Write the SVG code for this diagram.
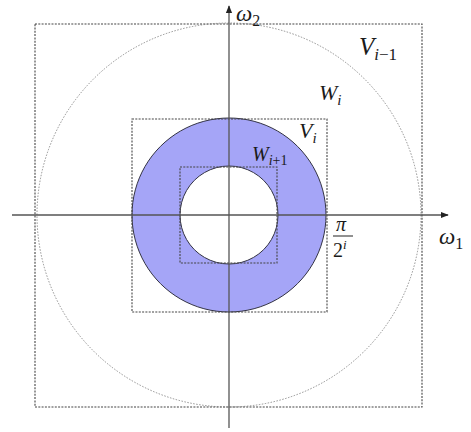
<svg xmlns="http://www.w3.org/2000/svg" width="471" height="432" viewBox="0 0 471 432">
<style>
.dot{fill:none;stroke:#444;stroke-width:1.1;stroke-dasharray:2 1.3}
.thin{fill:none;stroke:#777;stroke-width:0.8;stroke-dasharray:1.5 1.5}
.ax{stroke:#555;stroke-width:1.3;fill:none}
.t{font-family:"Liberation Serif","DejaVu Serif",serif;font-style:italic;fill:#1a1a1a}
.n{font-family:"Liberation Serif","DejaVu Serif",serif;fill:#1a1a1a}
</style>
<defs>
<marker id="ar" viewBox="0 0 10 10" refX="9" refY="5" markerWidth="8" markerHeight="8" orient="auto" markerUnits="userSpaceOnUse">
<path d="M0,1 L10,5 L0,9 Z" fill="#222"/>
</marker>
</defs>
<rect width="471" height="432" fill="#fff"/>
<g id="Vi-1">
<rect class="dot" x="35" y="24" width="387" height="383"/>
</g>
<g id="Wi">
<circle class="thin" cx="229" cy="215" r="192"/>
</g>
<g id="annulus">
<path d="M229,118 A97,97 0 1,1 228.99,118 Z M229,166 A49,49 0 1,0 229.01,166 Z" fill="#a5a5f7" fill-rule="evenodd" stroke="#334" stroke-width="1"/>
</g>
<g id="Vi">
<rect class="dot" x="132" y="119" width="195" height="193"/>
</g>
<g id="Vi+1">
<rect class="dot" x="180" y="167" width="97" height="96"/>
</g>
<g id="connectors">
<line class="ax" x1="12" y1="215" x2="448" y2="215" marker-end="url(#ar)"/>
<line class="ax" x1="229" y1="428" x2="229" y2="6" marker-end="url(#ar)"/>
</g>
<g id="labels">
<text class="t" x="236" y="21" font-size="23">ω<tspan class="n" font-size="16" dy="5" font-style="normal">2</tspan></text>
<text class="t" x="359" y="55" font-size="25">V<tspan font-size="17" dy="5">i</tspan><tspan class="n" font-size="17" font-style="normal">−1</tspan></text>
<text class="t" x="319" y="100" font-size="22">W<tspan font-size="15" dy="5">i</tspan></text>
<text class="t" x="299" y="138" font-size="22">V<tspan font-size="15" dy="5">i</tspan></text>
<text class="t" x="252" y="161" font-size="20">W<tspan font-size="14" dy="4">i</tspan><tspan class="n" font-size="14" font-style="normal">+1</tspan></text>
<text class="t" x="336" y="231" font-size="20">π</text>
<line x1="333" y1="236" x2="353" y2="236" stroke="#222" stroke-width="1"/>
<text class="n" x="333" y="257" font-size="20">2<tspan class="t" font-size="13" dy="-8">i</tspan></text>
<text class="t" x="439" y="244" font-size="23">ω<tspan class="n" font-size="16" dy="5" font-style="normal">1</tspan></text>
</g>
</svg>
